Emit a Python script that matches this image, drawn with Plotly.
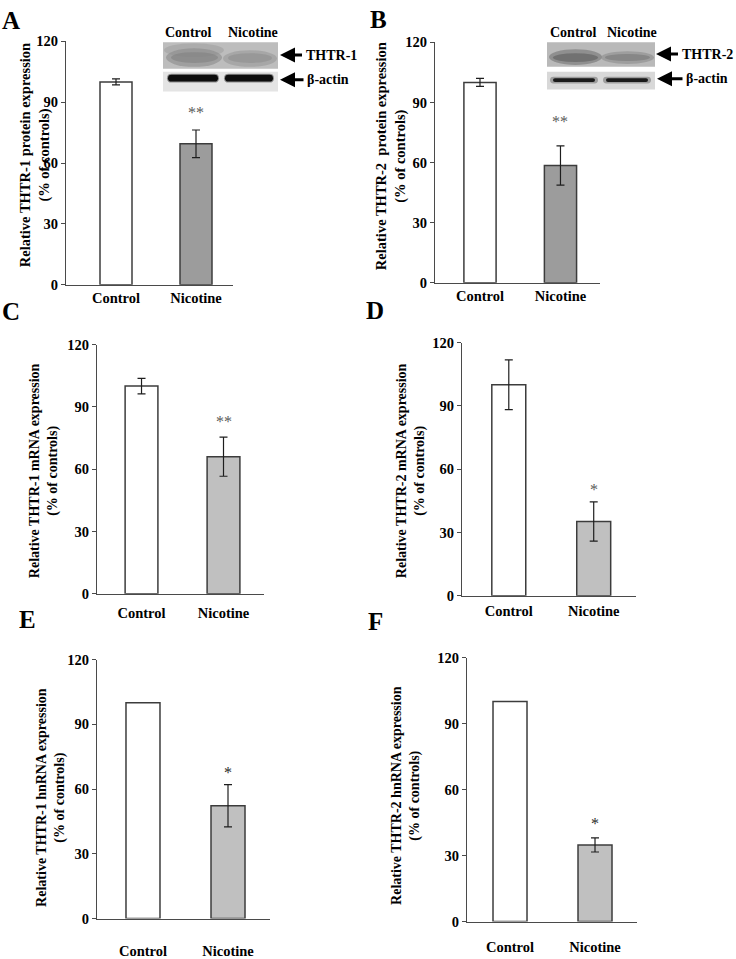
import plotly.graph_objects as go

W, H = 736, 959
FONT = "Liberation Serif"

# ---------------- data ----------------
categories = ["Control", "Nicotine"]
y_ticks = [0, 30, 60, 90, 120]

protein_thtr1 = [100, 69.5]
protein_thtr1_err = [1.5, 6.8]
protein_thtr2 = [100, 58.5]
protein_thtr2_err = [2.0, 9.8]
mrna_thtr1 = [100, 66.0]
mrna_thtr1_err = [3.7, 9.4]
mrna_thtr2 = [100, 35.2]
mrna_thtr2_err = [11.8, 9.3]
hnrna_thtr1 = [100, 52.3]
hnrna_thtr1_err = [None, 9.8]
hnrna_thtr2 = [100, 34.8]
hnrna_thtr2_err = [None, 3.2]

significance = ["**", "**", "**", "*", "*", "*"]
panel_letters = ["A", "B", "C", "D", "E", "F"]
y_titles = [
    "Relative THTR-1 protein expression<br>(% of controls)",
    "Relative THTR-2  protein expression<br>(% of controls)",
    "Relative THTR-1 mRNA expression<br>(% of controls)",
    "Relative THTR-2 mRNA expression<br>(% of controls)",
    "Relative THTR-1 hnRNA expression<br>(% of controls)",
    "Relative THTR-2 hnRNA expression<br>(% of controls)",
]
series = [
    (protein_thtr1, protein_thtr1_err),
    (protein_thtr2, protein_thtr2_err),
    (mrna_thtr1, mrna_thtr1_err),
    (mrna_thtr2, mrna_thtr2_err),
    (hnrna_thtr1, hnrna_thtr1_err),
    (hnrna_thtr2, hnrna_thtr2_err),
]

# ---------------- layout (pixels) ----------------
panels = [
    dict(l=66, r=233, y0=282, y1=34, xr=[-0.625, 1.4625], letter=(11, 13), title=(35, 150), star=17, so=0, fill="#9c9c9c", title_size=14.5),
    dict(l=435, r=600, y0=280, y1=35, xr=[-0.559, 1.491], letter=(378, 12), title=(391, 151), star=24, so=0, fill="#9c9c9c", title_size=14.5),
    dict(l=97, r=264, y0=597, y1=343, xr=[-0.543, 1.494], letter=(11, 309), title=(44, 472), star=16, so=6, fill="#c0c0c0", title_size=14),
    dict(l=462, r=636, y0=599, y1=341, xr=[-0.551, 1.498], letter=(375, 308), title=(411, 472), star=12, so=2, fill="#c0c0c0", title_size=14),
    dict(l=97, r=270, y0=928, y1=664, xr=[-0.541, 1.494], letter=(27, 623), title=(51, 805), star=12, so=19, fill="#c0c0c0", title_size=14),
    dict(l=467, r=637, y0=931, y1=662, xr=[-0.506, 1.494], letter=(375, 625), title=(406, 802), star=14, so=12, fill="#c0c0c0", title_size=14),
]


def px(x, y):
    return x / W, 1 - y / H


fig = go.Figure()
annotations = []
shapes = []

for i, (p, (vals, errs)) in enumerate(zip(panels, series)):
    n = i + 1
    xa = "x" if n == 1 else f"x{n}"
    ya = "y" if n == 1 else f"y{n}"
    fills = ["#ffffff", p["fill"]]
    for k in range(2):
        eb = dict(type="data", array=[errs[k]], color="#1e1e1e", thickness=1.2, width=4,
                  visible=errs[k] is not None)
        fig.add_trace(go.Bar(
            x=[categories[k]], y=[vals[k]], xaxis=xa, yaxis=ya, width=0.4,
            marker=dict(color=fills[k], line=dict(color="#3c3c3c", width=1.5)),
            error_y=eb, showlegend=False, hoverinfo="skip",
        ))
    xd = [p["l"] / W, p["r"] / W]
    yd = [1 - p["y0"] / H, 1 - p["y1"] / H]
    axfont = dict(family=FONT, size=14.5, color="#000", weight="bold")
    fig.layout[f"xaxis{'' if n == 1 else n}"] = dict(
        domain=xd, anchor=ya, type="category", categoryorder="array", categoryarray=categories,
        range=p["xr"], showline=True,
        linecolor="#4a4a4a", linewidth=1.2, ticks="", showgrid=False, zeroline=False,
        tickfont=axfont, ticklabelstandoff=p["so"], fixedrange=True,
    )
    fig.layout[f"yaxis{'' if n == 1 else n}"] = dict(
        domain=yd, anchor=xa, range=[0, 120], tickvals=y_ticks, showline=True,
        linecolor="#4a4a4a", linewidth=1.2, ticks="outside", ticklen=4, tickcolor="#4a4a4a",
        showgrid=False, zeroline=False, tickfont=axfont, fixedrange=True,
    )
    err_top = vals[1] + (errs[1] or 0)
    annotations.append(dict(
        x=categories[1], y=err_top, xref=xa, yref=ya, text=significance[i],
        showarrow=False, yanchor="middle", yshift=p["star"],
        font=dict(family=FONT, size=16, color="#5a5a5a" if i < 4 else "#2a2a2a"),
    ))
    lx, ly = px(*p["letter"])
    annotations.append(dict(
        x=lx, y=ly, xref="paper", yref="paper", text=f"<b>{panel_letters[i]}</b>",
        showarrow=False, xanchor="center", yanchor="middle",
        font=dict(family=FONT, size=25, color="#000"),
    ))
    tx, ty = px(*p["title"])
    annotations.append(dict(
        x=tx, y=ty, xref="paper", yref="paper", text=f"<b>{y_titles[i]}</b>",
        showarrow=False, xanchor="center", yanchor="middle", textangle=-90,
        font=dict(family=FONT, size=p["title_size"], color="#000"),
    ))


# ---------------- western blot insets (decoration) ----------------
def rect(x0, y0, x1, y1, fill, opacity=1.0):
    a = px(x0, y0)
    b = px(x1, y1)
    return dict(type="rect", xref="paper", yref="paper", x0=a[0], y0=b[1], x1=b[0], y1=a[1],
                fillcolor=fill, line=dict(width=0), opacity=opacity, layer="above")


def ellipse(x0, y0, x1, y1, fill, opacity=1.0):
    d = rect(x0, y0, x1, y1, fill, opacity)
    d["type"] = "circle"
    return d


def band(x0, y0, x1, y1, fill, opacity=1.0):
    ym = (y0 + y1) / 2
    r = (y1 - y0) / 2

    def P(x, y):
        a = px(x, y)
        return f"{a[0]:.5f},{a[1]:.5f}"
    path = (f"M{P(x0 + r, y0)} L{P(x1 - r, y0)} Q{P(x1, y0)} {P(x1, ym)} Q{P(x1, y1)} {P(x1 - r, y1)} "
            f"L{P(x0 + r, y1)} Q{P(x0, y1)} {P(x0, ym)} Q{P(x0, y0)} {P(x0 + r, y0)} Z")
    return dict(type="path", xref="paper", yref="paper", path=path, fillcolor=fill,
                line=dict(width=0), opacity=opacity, layer="above")


shapes += [
    rect(163, 35, 278, 62, "#bdbdbd"),
    ellipse(164, 36, 224, 50, "#a5a5a5", 0.7),
    ellipse(166, 41, 222, 60, "#8a8a8a", 0.6),
    ellipse(171, 45, 218, 56, "#7c7c7c", 0.5),
    ellipse(223, 43, 277, 60, "#959595", 0.55),
    ellipse(228, 46, 272, 56, "#888888", 0.45),
    rect(163, 65, 278, 85, "#e4e4e4"),
    band(167, 67, 219, 76, "#555555", 0.6),
    band(168, 68, 218, 75, "#0d0d0d"),
    band(224, 67, 274, 76, "#555555", 0.6),
    band(225, 68, 273, 75, "#0d0d0d"),
]
shapes += [
    rect(547, 35, 655, 60, "#b9b9b9"),
    ellipse(549, 42, 602, 58, "#7e7e7e", 0.7),
    ellipse(553, 46, 598, 55, "#5e5e5e", 0.6),
    ellipse(601, 44, 654, 57, "#8c8c8c", 0.6),
    ellipse(605, 47, 650, 54, "#707070", 0.5),
    rect(547, 65, 655, 83, "#d8d8d8"),
    band(550, 70, 598, 77, "#777777", 0.6),
    band(553, 71.5, 595, 75.5, "#1a1a1a"),
    band(603, 70, 651, 77, "#777777", 0.6),
    band(606, 71.5, 648, 75.5, "#1a1a1a"),
]

blot_font = dict(family=FONT, size=14, color="#000")
for (x, y, t) in [(188, 25, "Control"), (253, 25, "Nicotine"), (573, 25, "Control"), (632, 25, "Nicotine")]:
    a = px(x, y)
    annotations.append(dict(x=a[0], y=a[1], xref="paper", yref="paper", text=f"<b>{t}</b>",
                            showarrow=False, xanchor="center", yanchor="middle", font=blot_font))

for (tx_, ty_, cx, lab) in [(280, 48, 331, "THTR-1"), (280, 73, 328, "β-actin"),
                            (656, 47, 707, "THTR-2"), (657, 72, 707, "β-actin")]:
    a = px(tx_, ty_)
    annotations.append(dict(
        x=a[0], y=a[1], xref="paper", yref="paper", text=f"<b>{lab}</b>",
        showarrow=True, ax=cx - tx_, ay=0, arrowhead=2, arrowsize=1, arrowwidth=3,
        arrowcolor="#000", standoff=0, startstandoff=2, font=blot_font,
    ))

fig.update_layout(
    width=W, height=H, autosize=False,
    margin=dict(l=0, r=0, t=0, b=0),
    paper_bgcolor="#ffffff", plot_bgcolor="#ffffff",
    barmode="overlay", annotations=annotations, shapes=shapes,
    font=dict(family=FONT, color="#000"),
)

fig.write_html("out.html", config={"displayModeBar": False},
               post_script="document.body.style.margin='0';document.body.style.overflow='hidden';")
